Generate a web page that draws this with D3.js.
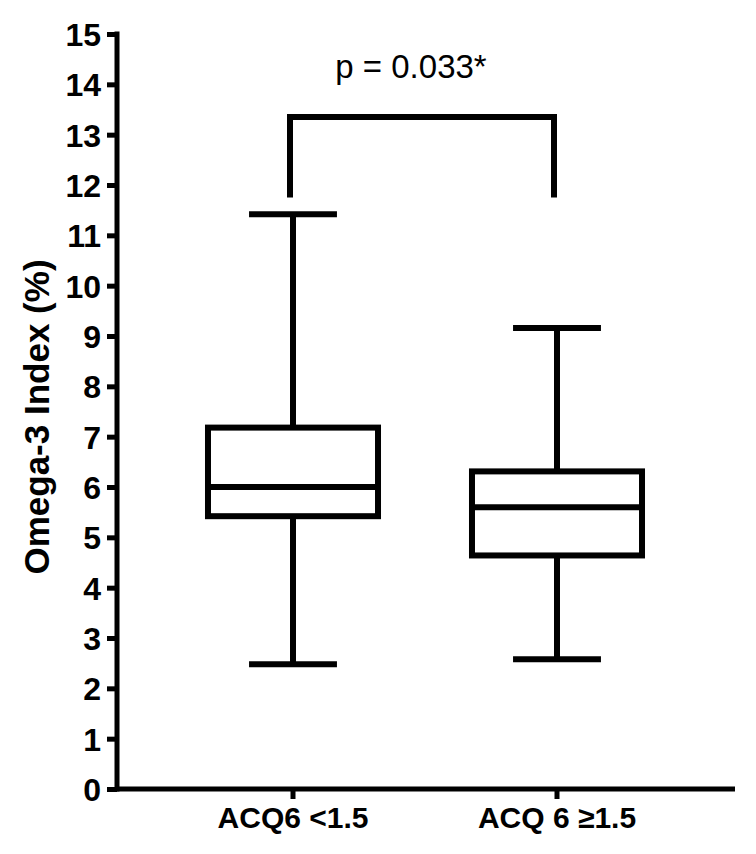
<!DOCTYPE html>
<html>
<head>
<meta charset="utf-8">
<script src="https://cdn.jsdelivr.net/npm/d3@7"></script>
<style>
  body { margin: 0; background: #fff; }
  svg { display: block; font-family: Arial, "Liberation Sans", sans-serif; }
</style>
</head>
<body>
<div id="chart"></div>
<script>
// chart values
const groups = ["ACQ6 <1.5", "ACQ 6 \u22651.5"];
const whisker_low = [2.48, 2.58];
const q1 = [5.42, 4.64];
const median = [6.0, 5.6];
const q3 = [7.18, 6.31];
const whisker_high = [11.42, 9.16];
const y_ticks = d3.range(0, 16);
const bracket_low = 11.75;
const bracket_top = 13.35;
const p_label = "p = 0.033*";

const width = 756;
const height = 854;

const svg = d3.select("#chart")
    .append("svg")
    .attr("width", width)
    .attr("height", height);

const y_scale = d3.scaleLinear()
    .domain([0, 15])
    .range([789, 34]);

const x_scale = d3.scaleBand()
    .domain(groups)
    .range([161, 689]);

const bw = x_scale.bandwidth();
const box_w = bw * 0.644;
const cap_w = bw * 0.333;
const cx = function (g) { return x_scale(g) + bw / 2; };

// y axis
const y_axis = d3.axisLeft(y_scale)
    .tickValues(y_ticks)
    .tickFormat(d3.format("d"))
    .tickSizeOuter(0)
    .tickSize(10)
    .tickPadding(6);

const gy = svg.append("g")
    .attr("transform", "translate(117,0)")
    .call(y_axis);
gy.select(".domain").attr("stroke-width", 5).attr("d", "M0," + (y_scale(0) + 2.5) + "V" + (y_scale(15) - 2.5));
gy.selectAll(".tick line").attr("stroke-width", 5);
gy.selectAll(".tick text")
    .attr("font-size", 32)
    .attr("font-weight", "bold")
    .attr("font-family", "Arial, 'Liberation Sans', sans-serif")
    .attr("dy", "0.36em");

// x axis
const x_axis = d3.axisBottom(x_scale)
    .tickSizeOuter(0)
    .tickSize(10)
    .tickPadding(8);

const gx = svg.append("g")
    .attr("transform", "translate(0," + y_scale(0) + ")")
    .call(x_axis);
gx.select(".domain").attr("stroke-width", 5).attr("d", "M115,0H735");
gx.selectAll(".tick line").attr("stroke-width", 5);
gx.selectAll(".tick text")
    .attr("font-size", 30)
    .attr("font-weight", "bold")
    .attr("font-family", "Arial, 'Liberation Sans', sans-serif");

// boxes
const boxes = svg.append("g")
    .attr("fill", "none")
    .attr("stroke", "#000")
    .attr("stroke-width", 6);

groups.forEach(function (g, i) {
    const c = cx(g);
    // whisker lines
    boxes.append("line")
        .attr("x1", c).attr("x2", c)
        .attr("y1", y_scale(whisker_high[i])).attr("y2", y_scale(q3[i]));
    boxes.append("line")
        .attr("x1", c).attr("x2", c)
        .attr("y1", y_scale(q1[i])).attr("y2", y_scale(whisker_low[i]));
    // caps
    [whisker_high[i], whisker_low[i]].forEach(function (v) {
        boxes.append("line")
            .attr("x1", c - cap_w / 2).attr("x2", c + cap_w / 2)
            .attr("y1", y_scale(v)).attr("y2", y_scale(v));
    });
    boxes.append("rect")
        .attr("x", c - box_w / 2)
        .attr("y", y_scale(q3[i]))
        .attr("width", box_w)
        .attr("height", y_scale(q1[i]) - y_scale(q3[i]))
        .attr("fill", "#fff");
    boxes.append("line")
        .attr("x1", c - box_w / 2).attr("x2", c + box_w / 2)
        .attr("y1", y_scale(median[i])).attr("y2", y_scale(median[i]));
});

// significance bracket
const bx1 = cx(groups[0]) - 3;
const bx2 = cx(groups[1]) - 3;
svg.append("path")
    .attr("fill", "none")
    .attr("stroke", "#000")
    .attr("stroke-width", 6)
    .attr("d", "M" + bx1 + "," + y_scale(bracket_low) +
        "V" + y_scale(bracket_top) +
        "H" + bx2 +
        "V" + y_scale(bracket_low));

svg.append("text")
    .attr("x", 411)
    .attr("y", 78)
    .attr("text-anchor", "middle")
    .attr("font-size", 33)
    .text(p_label);

// y axis title
svg.append("text")
    .attr("transform", "translate(49,417) rotate(-90)")
    .attr("text-anchor", "middle")
    .attr("font-size", 35)
    .attr("font-weight", "bold")
    .text("Omega-3 Index (%)");
</script>
</body>
</html>
